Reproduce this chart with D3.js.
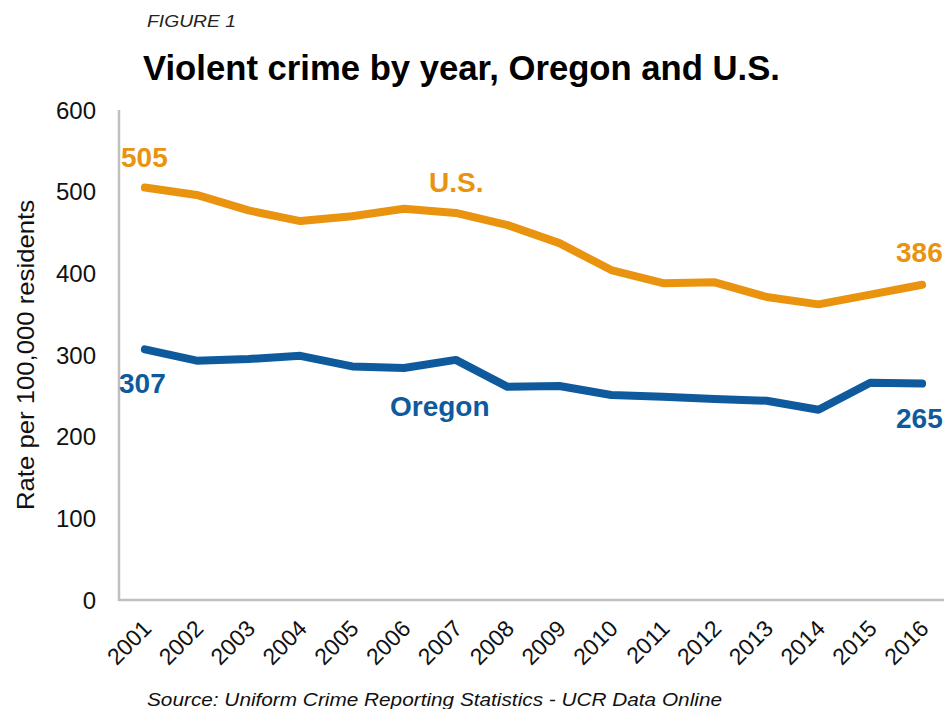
<!DOCTYPE html>
<html>
<head>
<meta charset="utf-8">
<script src="https://cdn.jsdelivr.net/npm/d3@7"></script>
<style>
  body { margin: 0; background: #fff; }
  text { font-family: "Liberation Sans", Arial, sans-serif; }
</style>
</head>
<body>
<div id="chart"></div>
<script>
// data
const years = ["2001","2002","2003","2004","2005","2006","2007","2008","2009","2010","2011","2012","2013","2014","2015","2016"];
const usRate = [505, 496, 477, 464, 470, 479, 474, 459, 437, 404, 388, 389, 371, 362, 374, 386];
const oregonRate = [307, 293, 295, 299, 286, 284, 294, 261, 262, 251, 249, 246, 244, 233, 266, 265];
const yTicks = [0, 100, 200, 300, 400, 500, 600];

const W = 944, H = 709;
const orange = '#E9930F', blue = '#0F5A9C';

const svg = d3.select('#chart').append('svg').attr('width', W).attr('height', H);

var x = d3.scaleBand().domain(years).range([119, 948]);
var y = d3.scaleLinear().domain([0, 600]).range([600, 110]);
var px = d => x(d) + x.bandwidth() / 2;

// titles
svg.append('text').attr('x', 147).attr('y', 27)
  .style('font-size', '17px').style('font-style', 'italic').attr('fill', '#222')
  .attr('textLength', 89).attr('lengthAdjust', 'spacingAndGlyphs')
  .text('FIGURE 1');
svg.append('text').attr('x', 143).attr('y', 80)
  .style('font-size', '35px').style('font-weight', 'bold').attr('fill', '#000')
  .attr('textLength', 637).attr('lengthAdjust', 'spacingAndGlyphs')
  .text('Violent crime by year, Oregon and U.S.');

// axes
svg.append('path').attr('d', `M ${x.range()[0]} ${y(600)} V ${y(0)} H ${W}`)
  .attr('fill', 'none').attr('stroke', '#BFBFBF').attr('stroke-width', 2.5);

svg.selectAll('.ytick').data(yTicks).enter().append('text')
  .attr('class', 'ytick')
  .attr('x', 96).attr('y', d => y(d)).attr('dy', '0.36em')
  .attr('text-anchor', 'end')
  .style('font-size', '24px').attr('fill', '#111')
  .text(d => d);

svg.selectAll('.xtick').data(years).enter().append('text')
  .attr('class', 'xtick')
  .attr('transform', d => `translate(${px(d) + 8},${y(0) + 30}) rotate(-45)`)
  .attr('text-anchor', 'end')
  .style('font-size', '23px').attr('fill', '#111')
  .text(d => d);

svg.append('text')
  .attr('transform', `translate(34,${355}) rotate(-90)`)
  .attr('text-anchor', 'middle')
  .style('font-size', '24px').attr('fill', '#111')
  .attr('textLength', 310).attr('lengthAdjust', 'spacingAndGlyphs')
  .text('Rate per 100,000 residents');

// lines
var line = d3.line().x((d, i) => px(years[i])).y(d => y(d));
[[usRate, orange], [oregonRate, blue]].forEach(([vals, col]) => {
  svg.append('path').attr('d', line(vals))
    .attr('fill', 'none').attr('stroke', col)
    .attr('stroke-width', 8).attr('stroke-linecap', 'round').attr('stroke-linejoin', 'round');
});

// labels
function lab(t, xx, yy, col) {
  svg.append('text').attr('x', xx).attr('y', yy)
    .style('font-size', '28px').style('font-weight', 'bold').attr('fill', col)
    .text(t);
}
var last = years.length - 1;
lab(usRate[0], 121, y(usRate[0]) - 21, orange);
lab(oregonRate[0], 119, y(oregonRate[0]) + 44, blue);
lab('U.S.', 429, y(usRate[6]) - 21, orange);
lab('Oregon', 390, y(oregonRate[7]) + 29, blue);
lab(usRate[last], 896, y(usRate[last]) - 23, orange);
lab(oregonRate[last], 896, y(oregonRate[last]) + 44, blue);

// source
svg.append('text').attr('x', 147).attr('y', 706)
  .style('font-size', '19px').style('font-style', 'italic').attr('fill', '#111')
  .attr('textLength', 575).attr('lengthAdjust', 'spacingAndGlyphs')
  .text('Source: Uniform Crime Reporting Statistics - UCR Data Online');
</script>
</body>
</html>
